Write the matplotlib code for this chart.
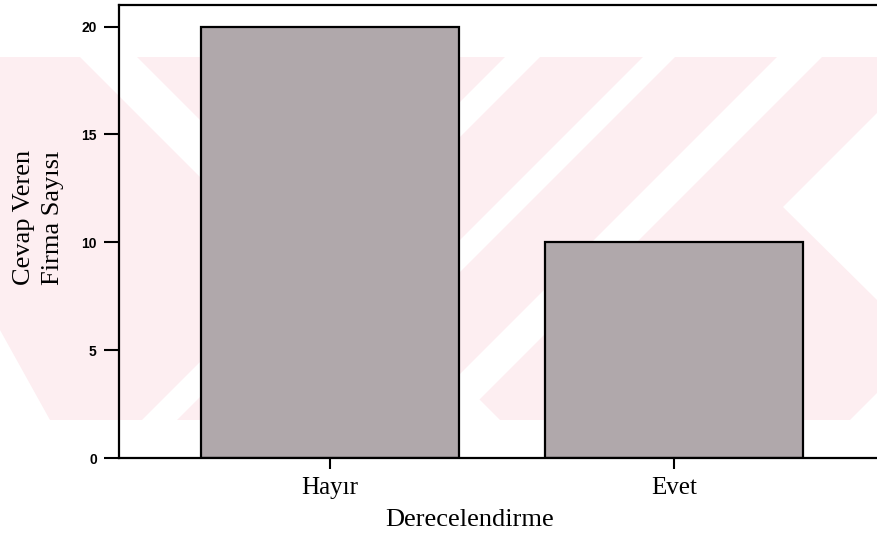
import matplotlib
matplotlib.use("Agg")
import matplotlib.pyplot as plt
from matplotlib.patches import Polygon, Rectangle

categories = ["Hayır", "Evet"]
counts = [20, 10]
yticks = [0, 5, 10, 15, 20]
xlabel = "Derecelendirme"
ylabel = "Cevap Veren\nFirma Sayısı"

W, H = 877, 537
fig = plt.figure(figsize=(W / 100, H / 100), dpi=100)
fig.patch.set_facecolor("white")

# faint watermark in the background (pixel coordinates)
bg = fig.add_axes([0, 0, 1, 1], zorder=0)
bg.set_xlim(0, W)
bg.set_ylim(H, 0)
bg.axis("off")
pink = "#fdeef1"
bg.add_patch(Rectangle((0, 57), W, 363, facecolor=pink, edgecolor="none"))
white_polys = [
    [(80, 57), (137, 57), (500, 420), (443, 420)],
    [(505, 57), (540, 57), (177, 420), (142, 420)],
    [(643, 57), (675, 57), (312, 420), (280, 420)],
    [(777, 57), (822, 57), (459, 420), (414, 420)],
    [(783, 207), (877, 113), (877, 300)],
    [(850, 420), (877, 420), (877, 393)],
    [(0, 330), (0, 420), (50, 420)],
]
for p in white_polys:
    bg.add_patch(Polygon(p, closed=True, facecolor="white", edgecolor="none"))

ax = fig.add_axes([119 / W, 79 / H, (W - 119) / W, 453 / H], zorder=1)
ax.set_facecolor("none")

x = list(range(len(categories)))
ax.bar(x, counts, width=0.75, color="#b0a8ab", edgecolor="black", linewidth=1.6, zorder=2)

ax.set_xlim(-0.613, 1.59)
ax.set_ylim(0, 21)
ax.set_xticks(x)
ax.set_xticklabels(categories, fontfamily="Liberation Serif", fontsize=18)
ax.set_yticks(yticks)
ax.set_yticklabels([str(v) for v in yticks], fontfamily="Liberation Sans",
                   fontweight="bold", fontsize=10)

ax.tick_params(axis="y", length=11, width=1.5, pad=5, direction="out")
ax.tick_params(axis="x", length=8, width=1.5, pad=6, direction="out")

for s in ["left", "top", "bottom"]:
    ax.spines[s].set_linewidth(1.6)
ax.spines["right"].set_visible(False)

ax.set_xlabel(xlabel, fontfamily="Liberation Serif", fontsize=19, labelpad=10)
ax.xaxis.set_label_coords(0.462, -0.113)
ax.set_ylabel(ylabel, fontfamily="Liberation Serif", fontsize=19, linespacing=1.45)
ax.yaxis.set_label_coords(-0.072, 0.53)

fig.savefig("out.png", dpi=100)
